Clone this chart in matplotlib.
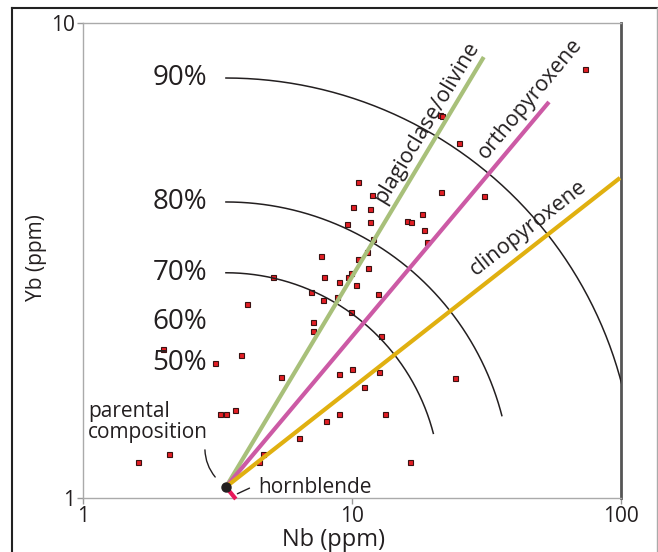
import numpy as np
import matplotlib.pyplot as plt
from matplotlib.lines import Line2D
from matplotlib.ticker import NullLocator

plt.rcParams['font.family'] = ['Open Sans', 'DejaVu Sans']

# sample data (ppm)
nb = [1.60, 2.09, 1.98, 3.10, 3.23, 3.40, 3.67, 3.87, 4.07, 4.51,
      4.67, 5.09, 5.45, 6.35, 7.04, 7.16, 7.16, 7.67, 7.80, 7.87,
      8.01, 8.80, 8.95, 8.95, 8.95, 9.58, 9.66, 9.92, 9.92, 10.0,
      10.09, 10.35, 10.53, 10.53, 11.08, 11.47, 11.67, 11.67, 11.87, 11.97,
      12.50, 12.60, 12.82, 13.26, 16.02, 16.57, 16.43, 18.21, 18.52, 19.00,
      21.24, 21.61, 21.42, 24.15, 24.99, 30.95, 73.5, 11.37]
yb = [1.19, 1.24, 2.06, 1.92, 1.50, 1.50, 1.53, 2.00, 2.56, 1.19,
      1.24, 2.92, 1.80, 1.34, 2.72, 2.35, 2.25, 3.23, 2.61, 2.92,
      1.45, 2.65, 2.85, 1.82, 1.50, 3.78, 2.92, 2.98, 2.46, 1.87,
      4.10, 2.81, 4.63, 3.19, 1.71, 3.05, 4.06, 3.81, 4.35, 3.51,
      2.69, 1.84, 2.19, 1.50, 3.83, 3.81, 1.19, 3.96, 3.67, 3.46,
      6.40, 6.37, 4.41, 1.79, 5.59, 4.32, 8.00, 3.30]

# parental composition and fractionation trends
parent_nb = 3.40
parent_yb = 1.055
trend_names = ['plagioclase/olivine', 'orthopyroxene', 'clinopyroxene']
trend_end_nb = [30.9, 54.0, 99.2]
trend_end_yb = [8.48, 6.82, 4.72]
trend_colors = ['#a8c07a', '#cc5aa5', '#e0b010']
trend_label_nb = [19.0, 45.9, 45.1]
trend_label_yb = [6.16, 6.92, 3.70]
trend_label_rot = [59, 50, 38]
hbl_end_nb = 3.70
hbl_end_yb = 0.995

# degree of crystallisation
pct_labels = ['90%', '80%', '70%', '60%', '50%']
pct_yb = [7.66, 4.20, 2.98, 2.35, 1.92]
arc_top_yb = [7.66, 4.20, 2.98]

txt = '#231f20'

fig = plt.figure(figsize=(6.58, 5.52), dpi=100)
ax = fig.add_axes([0.1261, 0.0978, 0.8176, 0.8605])
ax.set_xscale('log')
ax.set_yscale('log')
ax.set_xlim(1, 100)
ax.set_ylim(1, 10)

# outer frame
fig.add_artist(Line2D([0.0182, 0.0182], [0, 0.9855], color='#222222', lw=1.5))
fig.add_artist(Line2D([0.0182, 1], [0.9855, 0.9855], color='#222222', lw=1.5))
fig.add_artist(Line2D([0.9985, 0.9985], [0, 0.9855], color='#aaaaaa', lw=1))

ax.plot(nb, yb, 's', ms=3.6, mfc='#e31e24', mec='#3a1212', mew=0.8, zorder=2)

# arcs are circles in screen space around the parent
w_px = fig.get_figwidth() * fig.dpi * 0.8176
h_px = fig.get_figheight() * fig.dpi * 0.8605
px_x = w_px / 2.0
px_y = h_px / 1.0
theta = np.radians(np.linspace(90, 14.5, 200))
for top in arc_top_yb:
    r = np.log10(top / parent_yb) * px_y
    lx = np.log10(parent_nb) + r * np.cos(theta) / px_x
    ly = np.log10(parent_yb) + r * np.sin(theta) / px_y
    ax.plot(10**lx, 10**ly, color=txt, lw=1.1, zorder=3)

for i in range(len(trend_names)):
    ax.plot([parent_nb, trend_end_nb[i]], [parent_yb, trend_end_yb[i]],
            color=trend_colors[i], lw=3, solid_capstyle='butt', zorder=4)
    ax.text(trend_label_nb[i], trend_label_yb[i], trend_names[i], fontsize=15.5,
            color=txt, rotation=trend_label_rot[i], rotation_mode='anchor',
            ha='center', va='center', zorder=6)

ax.plot([parent_nb, hbl_end_nb], [parent_yb, hbl_end_yb], color='#e8185a',
        lw=3, solid_capstyle='butt', clip_on=False, zorder=4)
ax.plot([parent_nb], [parent_yb], 'o', ms=6.5, color=txt, clip_on=False, zorder=5)

for lab, y in zip(pct_labels, pct_yb):
    ax.text(2.89, y, lab, fontsize=20, color=txt, ha='right', va='center')

ax.text(1.044, 1.445, 'parental\ncomposition', fontsize=15, color=txt,
        ha='left', va='center', linespacing=1.0)
ax.annotate('', xy=(3.15, 1.096), xytext=(2.84, 1.28),
            arrowprops=dict(arrowstyle='-', color=txt, lw=1,
                            connectionstyle='arc3,rad=0.2'))
ax.text(4.47, 1.05, 'hornblende', fontsize=15, color=txt, ha='left', va='center')
ax.annotate('', xy=(3.67, 1.015), xytext=(4.25, 1.055),
            arrowprops=dict(arrowstyle='-', color=txt, lw=1))

ax.set_xticks([1, 10, 100])
ax.set_xticklabels(['1', '10', '100'])
ax.set_yticks([1, 10])
ax.set_yticklabels(['1', '10'])
ax.xaxis.set_minor_locator(NullLocator())
ax.yaxis.set_minor_locator(NullLocator())
ax.tick_params(length=4, width=1, color='#999999', labelcolor=txt,
               labelsize=15, pad=2)

for s in ['left', 'bottom', 'top']:
    ax.spines[s].set_color('#aaaaaa')
    ax.spines[s].set_linewidth(1)
ax.spines['right'].set_color('#555555')
ax.spines['right'].set_linewidth(2)

ax.set_xlabel('Nb (ppm)', fontsize=17, color=txt)
ax.set_ylabel('Yb (ppm)', fontsize=15, color=txt)
ax.xaxis.set_label_coords(0.4665, -0.063)
ax.yaxis.set_label_coords(-0.066, 0.507)

fig.savefig('out.png', dpi=100)
